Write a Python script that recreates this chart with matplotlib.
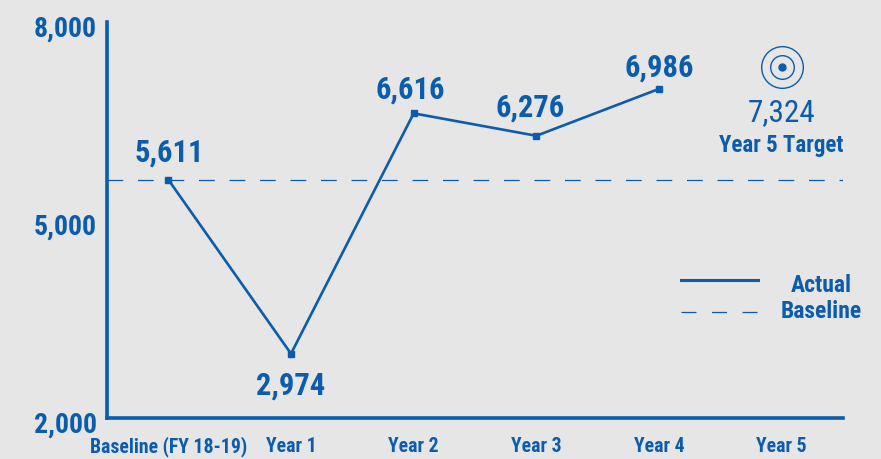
import matplotlib
matplotlib.use("Agg")
from matplotlib import pyplot as plt
from matplotlib.transforms import ScaledTranslation

categories = ["Baseline (FY 18-19)", "Year 1", "Year 2", "Year 3", "Year 4", "Year 5"]
actual = [5611, 2974, 6616, 6276, 6986]
actual_labels = ["5,611", "2,974", "6,616", "6,276", "6,986"]
baseline = 5611
target = 7324
y_ticks = [2000, 5000, 8000]
y_tick_labels = ["2,000", "5,000", "8,000"]

BLUE = "#0b5cad"
BG = "#e6e6e6"

plt.rcParams["font.family"] = ["Roboto Condensed", "Barlow Semi Condensed", "Roboto", "DejaVu Sans"]
plt.rcParams["font.weight"] = "bold"

fig = plt.figure(figsize=(8.81, 4.59), dpi=100, facecolor=BG)
ax = fig.add_axes([107 / 881, 1 - 418 / 459, (843 - 107) / 881, (418 - 22) / 459], facecolor=BG)

x = list(range(len(actual)))
ax.plot(x, actual, color=BLUE, lw=1.9, marker="s", ms=4.2, zorder=3)
ax.plot([-0.5, 5.5], [baseline, baseline], color=BLUE, lw=0.9, dashes=(12.6, 11.8), zorder=2)

# labels above the points, except the Year 1 dip
offsets_x = [1, 0, -3, -6, 0]
offsets_y = [27, -32, 24, 28, 21]
for xi, yi, lab, ox, oy in zip(x, actual, actual_labels, offsets_x, offsets_y):
    ax.annotate(lab, (xi, yi), xytext=(ox * 0.72, oy * 0.72), textcoords="offset points",
                ha="center", va="center", color=BLUE, fontsize=22)

# target icon for year 5
ax.plot([5], [target], marker="o", ms=30, mfc="none", mec=BLUE, mew=1.0, ls="none", clip_on=False)
ax.plot([5], [target], marker="o", ms=17, mfc="none", mec=BLUE, mew=1.0, ls="none")
ax.plot([5], [target], marker="o", ms=5, color=BLUE, ls="none")
ax.text(5, 6630, "7,324", ha="center", va="center", color=BLUE, fontsize=22.5, fontweight="normal")
ax.text(5, 6130, "Year 5 Target", ha="center", va="center", color=BLUE, fontsize=16.5)

ax.set_xlim(-0.5, 5.5)
ax.set_ylim(2000, 8000)
ax.set_xticks(range(len(categories)))
ax.set_xticklabels(categories, color=BLUE, fontsize=14.2)
ax.set_yticks(y_ticks)
ax.set_yticklabels(y_tick_labels, color=BLUE, fontsize=20)
ax.tick_params(axis="both", length=0)
ax.tick_params(axis="x", pad=13.5)
ax.tick_params(axis="y", pad=7.5)

# tick labels sit a little below their tick in the original
down = ScaledTranslation(0, -4 / 100, fig.dpi_scale_trans)
for lab in ax.get_yticklabels():
    lab.set_transform(lab.get_transform() + down)

for s in ["top", "right"]:
    ax.spines[s].set_visible(False)
for s in ["left", "bottom"]:
    ax.spines[s].set_color(BLUE)
    ax.spines[s].set_linewidth(2.6)

# legend
tr = ax.transAxes
ax.plot([0.78, 0.885], [0.348, 0.348], color=BLUE, lw=2.2, transform=tr)
ax.plot([0.78, 0.885], [0.268, 0.268], color=BLUE, lw=0.9, dashes=(12, 12.4), transform=tr)
ax.text(0.971, 0.335, "Actual", transform=tr, ha="center", va="center", color=BLUE, fontsize=17, clip_on=False)
ax.text(0.971, 0.268, "Baseline", transform=tr, ha="center", va="center", color=BLUE, fontsize=17, clip_on=False)

fig.savefig("out.png", dpi=100, facecolor=BG)
